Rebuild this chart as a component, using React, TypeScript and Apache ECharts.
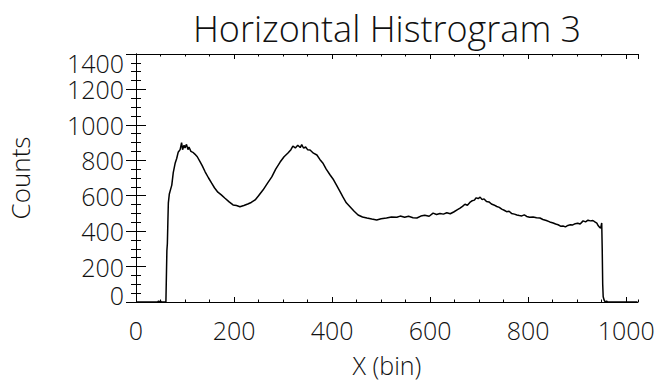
import React, { useEffect, useRef } from "react";
import * as echarts from "echarts";

const titleText = "Horizontal Histrogram 3";
const xName = "X (bin)";
const yName = "Counts";

// [bin, counts]
const histBins: number[] = [
  0, 44, 46, 48, 50, 52, 61, 62, 63, 64, 65, 66, 68, 70, 73, 76, 80, 83, 86, 90,
  93, 95, 98, 100, 103, 106, 108, 112, 116, 120, 125, 130, 135, 141, 148, 154, 160, 167, 174, 181,
  190, 198, 205, 212, 220, 228, 235, 243, 250, 259, 268, 277, 285, 294, 302, 310, 316, 320, 325, 330,
  335, 338, 342, 346, 350, 355, 362, 369, 375, 381, 388, 396, 403, 409, 416, 422, 429, 437, 445, 453,
  462, 471, 481, 491, 500, 511, 521, 532, 539, 548, 556, 565, 573, 581, 589, 598, 606, 613, 620, 627,
  634, 641, 648, 655, 661, 666, 671, 676, 681, 686, 690, 694, 698, 702, 706, 710, 715, 720, 725, 730,
  736, 741, 746, 751, 756, 761, 766, 772, 777, 782, 787, 792, 797, 803, 810, 817, 824, 830, 837, 844,
  851, 856, 861, 866, 871, 876, 881, 886, 891, 896, 901, 906, 912, 917, 922, 927, 932, 936, 940, 943,
  946, 948, 950, 951, 952, 953, 955, 957, 960, 962, 1023,
];
const histCounts: number[] = [
  0, 0, 6, 0, 5, 0, 0, 0, 290, 330, 450, 560, 610, 630, 660, 730, 785, 810, 845, 860,
  900, 860, 885, 870, 890, 860, 875, 850, 845, 835, 820, 795, 770, 735, 700, 672, 645, 620, 605, 587,
  565, 548, 545, 538, 545, 553, 562, 576, 600, 632, 670, 706, 750, 790, 820, 841, 860, 880, 870, 885,
  872, 888, 868, 875, 860, 858, 840, 830, 805, 785, 750, 717, 690, 660, 625, 593, 560, 536, 512, 491,
  480, 474, 468, 463, 470, 474, 480, 478, 485, 478, 484, 476, 474, 485, 490, 484, 502, 494, 500, 496,
  504, 498, 508, 520, 530, 540, 552, 546, 562, 572, 575, 588, 584, 592, 578, 582, 567, 565, 553, 548,
  539, 534, 524, 518, 510, 512, 500, 496, 491, 488, 486, 492, 483, 478, 480, 476, 474, 466, 460, 452,
  446, 440, 436, 428, 429, 424, 432, 436, 435, 442, 445, 440, 458, 452, 462, 458, 460, 452, 445, 430,
  420, 418, 446, 300, 100, 30, 10, 0, 5, 0, 0,
];

const xMin = 0;
const xMax = 1024;
const xMajor = 200;
const xMinor = 50;
const yMin = 0;
const yMax = 1400;
const yMajor = 200;

const FONT = "'Open Sans', 'DejaVu Sans', sans-serif";
const LABEL_SIZE = 25;

export default function App() {
  const ref = useRef<HTMLDivElement>(null);

  useEffect(() => {
    if (!ref.current) return;
    const chart = echarts.init(ref.current, null, { renderer: "svg" });
    const data = histBins.map((b, i) => [b, histCounts[i]]);
    const textBase = { fontFamily: FONT, fontWeight: 300, color: "#111" };
    const lineBlack = { color: "#000", width: 1 };

    const xCommon = {
      type: "value" as const,
      min: xMin,
      max: xMax,
      splitLine: { show: false },
    };
    const yCommon = {
      type: "value" as const,
      min: yMin,
      max: yMax,
      interval: yMajor,
      splitLine: { show: false },
    };

    chart.setOption({
      animation: false,
      backgroundColor: "#fff",
      title: {
        text: titleText,
        left: 387,
        top: 10,
        textAlign: "center",
        padding: 0,
        textStyle: { ...textBase, fontSize: 36 },
      },
      grid: {
        left: 136,
        right: 25,
        top: 54,
        bottom: 81,
        containLabel: false,
        outerBoundsMode: "none",
      },
      xAxis: [
        {
          ...xCommon,
          position: "bottom",
          interval: xMajor,
          axisLine: { show: true, lineStyle: lineBlack },
          axisTick: { show: true, inside: true, length: 5, lineStyle: lineBlack },
          axisLabel: {
            ...textBase,
            fontSize: LABEL_SIZE,
            margin: 15,
            showMinLabel: true,
            showMaxLabel: false,
            formatter: (v: number) => String(v),
          },
          name: xName,
          nameLocation: "middle",
          nameGap: 50,
          nameTextStyle: { ...textBase, fontSize: LABEL_SIZE },
        },
        {
          ...xCommon,
          position: "bottom",
          interval: xMinor,
          axisLine: { show: false },
          axisTick: { show: true, inside: true, length: 2.5, lineStyle: lineBlack },
          axisLabel: { show: false },
        },
        {
          ...xCommon,
          position: "top",
          interval: xMajor,
          axisLine: { show: true, lineStyle: lineBlack },
          axisTick: { show: true, inside: true, length: 5, lineStyle: lineBlack },
          axisLabel: { show: false },
        },
        {
          ...xCommon,
          position: "top",
          interval: xMinor,
          axisLine: { show: false },
          axisTick: { show: true, inside: true, length: 2.5, lineStyle: lineBlack },
          axisLabel: { show: false },
        },
      ],
      yAxis: [
        {
          ...yCommon,
          position: "left",
          axisLine: { show: true, lineStyle: lineBlack },
          axisTick: { show: true, inside: true, length: 10, lineStyle: lineBlack },
          minorTick: { show: true, splitNumber: 4, length: 5, lineStyle: lineBlack },
          axisLabel: {
            ...textBase,
            fontSize: LABEL_SIZE,
            lineHeight: 14,
            margin: 12,
            formatter: (v: number) =>
              v === yMin ? "{lo|" + v + "}" : v === yMax ? "{hi|" + v + "}" : "{n|" + v + "}",
            rich: {
              n: { ...textBase, fontSize: LABEL_SIZE, lineHeight: 14 },
              lo: { ...textBase, fontSize: LABEL_SIZE, lineHeight: 14, padding: [0, 0, 14, 0] },
              hi: { ...textBase, fontSize: LABEL_SIZE, lineHeight: 14, padding: [18, 0, 0, 0] },
            },
          },
          name: yName,
          nameLocation: "middle",
          nameGap: 103,
          nameRotate: 90,
          nameTextStyle: { ...textBase, fontSize: 26 },
        },
        {
          ...yCommon,
          position: "right",
          axisLine: { show: true, lineStyle: lineBlack },
          axisTick: { show: true, inside: true, length: 10, lineStyle: lineBlack },
          minorTick: { show: true, splitNumber: 4, length: 5, lineStyle: lineBlack },
          axisLabel: { show: false },
        },
      ],
      series: [
        {
          type: "line",
          xAxisIndex: 0,
          yAxisIndex: 0,
          data,
          symbol: "none",
          lineStyle: { color: "#000", width: 1.5 },
          silent: true,
        },
      ],
    });
    return () => chart.dispose();
  }, []);

  return (
    <div
      ref={ref}
      style={{ position: "absolute", left: 0, top: 0, width: 663, height: 383 }}
    />
  );
}
